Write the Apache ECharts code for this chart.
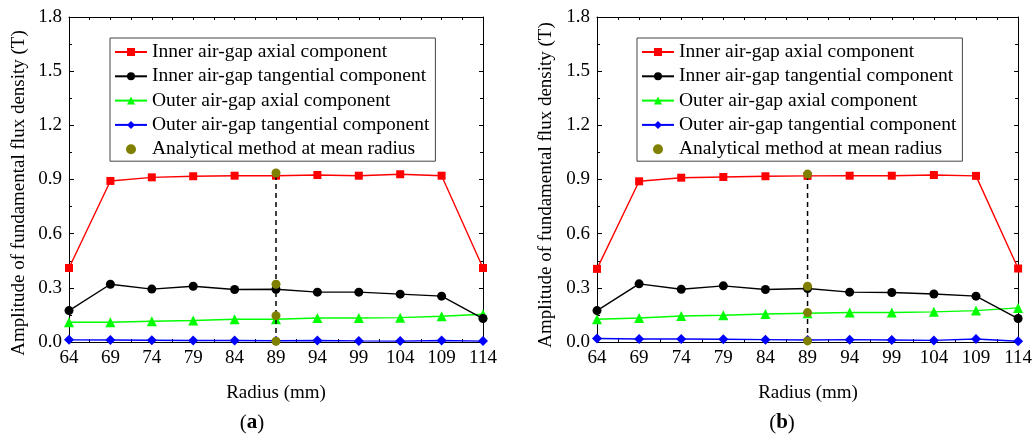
<!DOCTYPE html>
<html><head><meta charset="utf-8">
<script src="https://cdn.jsdelivr.net/npm/echarts@6/dist/echarts.min.js"></script>
<style>html,body{margin:0;padding:0;background:#fff}#c{width:1035px;height:438px}</style>
</head><body><div id="c"></div>
<script>
// ---- data ----
const radius = [64, 69, 74, 79, 84, 89, 94, 99, 104, 109, 114];
const radiusMinor = [66.5, 71.5, 76.5, 81.5, 86.5, 91.5, 96.5, 101.5, 106.5, 111.5];
const yMin = 0, yMax = 1.8, yStep = 0.3;
const seriesNames = [
  'Inner air-gap axial component',
  'Inner air-gap tangential component',
  'Outer air-gap axial component',
  'Outer air-gap tangential component',
  'Analytical method at mean radius'
];
// chart (a)
const aInnerAxial = [0.41, 0.892, 0.912, 0.918, 0.921, 0.921, 0.925, 0.921, 0.929, 0.921, 0.41];
const aInnerTang  = [0.174, 0.320, 0.293, 0.309, 0.291, 0.292, 0.276, 0.276, 0.265, 0.254, 0.130];
const aOuterAxial = [0.109, 0.109, 0.115, 0.119, 0.126, 0.126, 0.133, 0.133, 0.135, 0.143, 0.154];
const aOuterTang  = [0.012, 0.011, 0.010, 0.008, 0.008, 0.007, 0.008, 0.006, 0.005, 0.008, 0.005];
const aAnalytical = [0.936, 0.320, 0.146, 0.004];
// chart (b)
const bInnerAxial = [0.405, 0.890, 0.910, 0.914, 0.918, 0.920, 0.921, 0.921, 0.925, 0.920, 0.407];
const bInnerTang  = [0.174, 0.322, 0.292, 0.311, 0.291, 0.296, 0.276, 0.274, 0.266, 0.254, 0.130];
const bOuterAxial = [0.126, 0.133, 0.144, 0.148, 0.155, 0.159, 0.163, 0.163, 0.167, 0.174, 0.189];
const bOuterTang  = [0.019, 0.017, 0.017, 0.015, 0.013, 0.011, 0.013, 0.011, 0.009, 0.017, 0.004];
const bAnalytical = [0.930, 0.309, 0.163, 0.006];
const meanRadius = 89;
const panelLabels = ['a', 'b'];
const xTitle = 'Radius (mm)';
const yTitle = 'Amplitude of fundamental flux density (T)';

// ---- styles ----
const FONT = "'Liberation Serif','Times New Roman',serif";
const colors = ['#ff0000', '#000000', '#00ff00', '#0000ff', '#808000'];
const symbols = ['rect', 'circle', 'triangle', 'diamond', 'circle'];
const symSizes = [8, 9, 10, 10, 9];

const panels = [
  {left: 69, width: 414, sets: [aInnerAxial, aInnerTang, aOuterAxial, aOuterTang], ana: aAnalytical, legendLeft: 110, ytx: 19, yty: 193, labelX: 252},
  {left: 597, width: 422, sets: [bInnerAxial, bInnerTang, bOuterAxial, bOuterTang], ana: bAnalytical, legendLeft: 637, ytx: 546, yty: 185, labelX: 782}
];
const gridTop = 17, gridH = 325;

const grid = [], xAxis = [], yAxis = [], series = [], legend = [], graphic = [];
panels.forEach((p, gi) => {
  grid.push({left: p.left, top: gridTop, width: p.width, height: gridH, containLabel: false});
  const xb = xAxis.length;
  xAxis.push({
    type: 'value', gridIndex: gi, min: radius[0], max: radius[radius.length - 1], position: 'bottom',
    axisLine: {show: true, onZero: false, lineStyle: {color: '#000', width: 1}},
    axisTick: {show: true, inside: true, length: 5, customValues: radius, lineStyle: {color: '#000'}},
    axisLabel: {show: true, customValues: radius, margin: 7, color: '#000', fontSize: 19, fontFamily: FONT},
    splitLine: {show: false}
  });
  xAxis.push({
    type: 'value', gridIndex: gi, min: radius[0], max: radius[radius.length - 1], position: 'bottom',
    axisLine: {show: false},
    axisTick: {show: true, inside: true, length: 3, customValues: radiusMinor, lineStyle: {color: '#000'}},
    axisLabel: {show: false}, splitLine: {show: false}
  });
  xAxis.push({
    type: 'value', gridIndex: gi, min: radius[0], max: radius[radius.length - 1], position: 'top',
    axisLine: {show: true, onZero: false, lineStyle: {color: '#000', width: 1}},
    axisTick: {show: true, inside: true, length: 3, customValues: radius.concat(radiusMinor), lineStyle: {color: '#000'}},
    axisLabel: {show: false}, splitLine: {show: false}
  });
  const yl = yAxis.length;
  yAxis.push({
    type: 'value', gridIndex: gi, min: yMin, max: yMax, interval: yStep, position: 'left',
    axisLine: {show: true, onZero: false, lineStyle: {color: '#000', width: 1}},
    axisTick: {show: true, inside: true, length: 5, lineStyle: {color: '#000'}},
    minorTick: {show: true, splitNumber: 2, length: 3, lineStyle: {color: '#000'}},
    axisLabel: {margin: 7, color: '#000', fontSize: 19, fontFamily: FONT, formatter: v => v.toFixed(1)},
    splitLine: {show: false}, minorSplitLine: {show: false}
  });
  yAxis.push({
    type: 'value', gridIndex: gi, min: yMin, max: yMax, interval: yStep, position: 'right',
    axisLine: {show: true, onZero: false, lineStyle: {color: '#000', width: 1}},
    axisTick: {show: true, inside: true, length: 4, lineStyle: {color: '#000'}},
    minorTick: {show: true, splitNumber: 2, length: 3, lineStyle: {color: '#000'}},
    axisLabel: {show: false}, splitLine: {show: false}, minorSplitLine: {show: false}
  });
  p.sets.forEach((vals, si) => {
    series.push({
      name: seriesNames[si], type: 'line', xAxisIndex: xb, yAxisIndex: yl,
      data: radius.map((r, i) => [r, vals[i]]),
      symbol: symbols[si], symbolSize: symSizes[si], showSymbol: true,
      lineStyle: {color: colors[si], width: 1.4},
      itemStyle: {color: colors[si], opacity: 1},
      z: 3 + (4 - si), animation: false
    });
  });
  series.push({
    name: 'meanline', type: 'line', xAxisIndex: xb, yAxisIndex: yl,
    data: [[meanRadius, 0], [meanRadius, p.ana[0]]],
    symbol: 'none', lineStyle: {color: '#000', width: 1.5, type: [5, 4]}, z: 8, animation: false
  });
  series.push({
    name: seriesNames[4], type: 'scatter', xAxisIndex: xb, yAxisIndex: yl,
    data: p.ana.map(v => [meanRadius, v]),
    symbol: symbols[4], symbolSize: symSizes[4], itemStyle: {color: colors[4], opacity: 1}, z: 10, animation: false
  });
  legend.push({
    show: true, orient: 'vertical', left: p.legendLeft, top: 38,
    data: seriesNames, itemWidth: 32, itemHeight: 10, itemGap: 4.3,
    padding: [4, 6, 2, 4], borderColor: '#444', borderWidth: 1, backgroundColor: '#fff',
    textStyle: {fontSize: 19.5, lineHeight: 20, color: '#000', fontFamily: FONT},
    selectedMode: false
  });
  graphic.push({
    type: 'text', x: p.ytx, y: p.yty, rotation: Math.PI / 2,
    style: {text: yTitle, fontSize: 19, fontFamily: FONT, fill: '#000', align: 'center', verticalAlign: 'middle'}
  });
  graphic.push({
    type: 'text', x: p.left + p.width / 2, y: 393,
    style: {text: xTitle, fontSize: 19, fontFamily: FONT, fill: '#000', align: 'center', verticalAlign: 'middle'}
  });
  graphic.push({
    type: 'text', x: p.labelX, y: 423,
    style: {text: '({b|' + panelLabels[gi] + '})', fontSize: 21, fontFamily: FONT, fill: '#000', align: 'center', verticalAlign: 'middle',
      rich: {b: {fontSize: 21, fontFamily: FONT, fontWeight: 'bold', fill: '#000'}}}
  });
});

const chart = echarts.init(document.getElementById('c'), null, {renderer: 'canvas'});
chart.setOption({
  backgroundColor: '#fff', animation: false,
  grid, xAxis, yAxis, series, legend, graphic
});
</script></body></html>
